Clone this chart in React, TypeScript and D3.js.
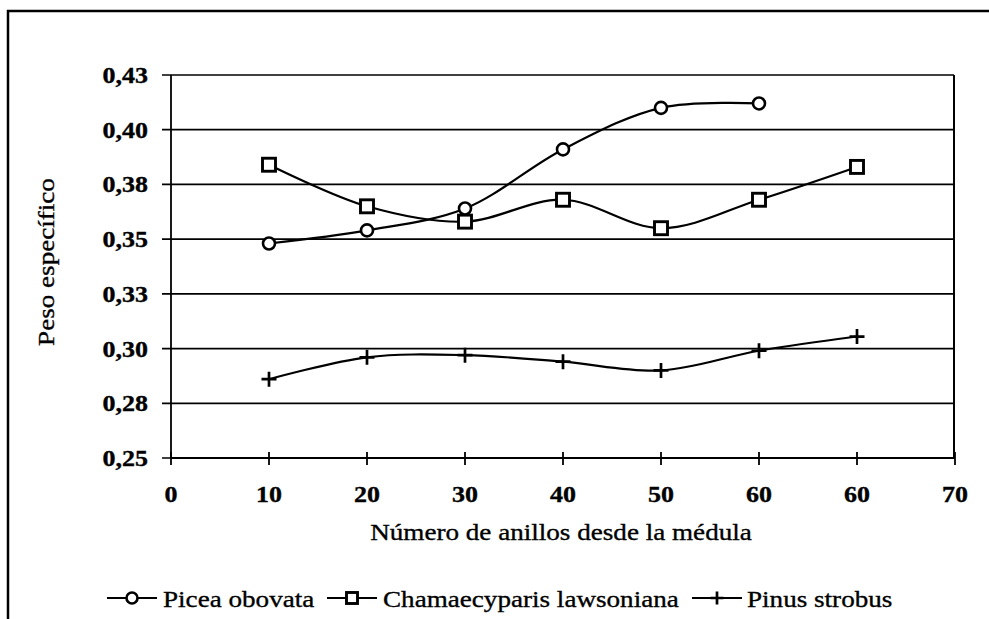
import * as d3 from 'd3'

const xLabels = ['0', '10', '20', '30', '40', '50', '60', '60', '70']
const yTicks = [0.25, 0.275, 0.3, 0.325, 0.35, 0.375, 0.4, 0.425]

// series values, positioned at category index 1.. (label 10, 20, ...)
const picea = [0.348, 0.354, 0.364, 0.391, 0.41, 0.412]
const chamae = [0.384, 0.365, 0.358, 0.368, 0.355, 0.368, 0.383]
const pinus = [0.286, 0.296, 0.297, 0.294, 0.29, 0.299, 0.3055]

const W = 989
const H = 619
const FONT = "'Liberation Serif', Tinos, 'Times New Roman', Times, serif"
const SX = 1.13

type Pt = [number, number]

function App() {
  const x = d3.scaleLinear().domain([0, 8]).range([171, 955])
  const y = d3.scaleLinear().domain([0.25, 0.425]).range([458, 75])
  const fmt = (v: number) => (Math.round(Math.round(v * 1000) / 10) / 100).toFixed(2).replace('.', ',')

  const toPts = (vals: number[]): Pt[] => vals.map((v, i) => [x(i + 1), y(v)])
  const line = d3.line<Pt>().x(d => d[0]).y(d => d[1]).curve(d3.curveCatmullRom.alpha(0.5))

  const circle = (cx: number, cy: number, r = 6, k = '') => (
    <circle key={k} cx={cx} cy={cy} r={r} fill="#fff" stroke="#000" strokeWidth={2.6} />
  )
  const square = (cx: number, cy: number, s = 13, k = '') => (
    <rect key={k} x={cx - s / 2} y={cy - s / 2} width={s} height={s} fill="#fff" stroke="#000" strokeWidth={2.9} />
  )
  const plus = (cx: number, cy: number, s = 7.5, k = '') => (
    <path key={k} d={`M${cx - s},${cy}H${cx + s}M${cx},${cy - s}V${cy + s}`} stroke="#000" strokeWidth={2.7} />
  )

  const txt = (tx: number, ty: number, s: string, opts: any = {}) => (
    <text
      key={opts.k ?? s + tx}
      transform={`translate(${tx},${ty}) scale(${SX},1)`}
      fontFamily={FONT}
      fontSize={opts.size ?? 24}
      fontWeight={opts.bold ? 'bold' : 'normal'}
      textAnchor={opts.anchor ?? 'start'}
      fill="#000"
      stroke="#000"
      strokeWidth={0.35}
    >
      {s}
    </text>
  )

  const pPts = toPts(picea)
  const cPts = toPts(chamae)
  const nPts = toPts(pinus)

  const legend = [
    { lx: 107, tx: 163, label: 'Picea obovata', mark: (cx: number) => circle(cx, 598, 5.5, 'lc') },
    { lx: 327, tx: 383, label: 'Chamaecyparis lawsoniana', mark: (cx: number) => square(cx, 598, 11, 'ls') },
    { lx: 692, tx: 747, label: 'Pinus strobus', mark: (cx: number) => plus(cx, 598, 6.5, 'lp') },
  ]

  return (
    <svg width={W} height={H} style={{ position: 'absolute', left: 0, top: 0, background: '#fff' }}>
      {/* outer frame */}
      <path d={`M8,${H}V11H${W}`} fill="none" stroke="#000" strokeWidth={2.5} />

      {/* gridlines + y ticks */}
      {yTicks.map(t => (
        <line key={t} x1={162} x2={954} y1={y(t)} y2={y(t)} stroke="#000" strokeWidth={1.7} />
      ))}
      {/* plot borders */}
      <line x1={171} x2={171} y1={y(0.425)} y2={y(0.25)} stroke="#000" strokeWidth={1.8} />
      <line x1={954} x2={954} y1={y(0.425)} y2={y(0.25)} stroke="#000" strokeWidth={2} />
      <line x1={171} x2={955} y1={y(0.25)} y2={y(0.25)} stroke="#000" strokeWidth={2} />
      {/* x ticks */}
      {xLabels.map((_, i) => (
        <line key={'xt' + i} x1={x(i)} x2={x(i)} y1={452} y2={465} stroke="#000" strokeWidth={1.8} />
      ))}

      {/* y tick labels */}
      {yTicks.map(t => txt(148, y(t) + 8, fmt(t), { anchor: 'end', bold: true, size: 23, k: 'yl' + t }))}
      {/* x tick labels */}
      {xLabels.map((l, i) => txt(x(i), 502, l, { anchor: 'middle', bold: true, size: 23, k: 'xl' + i }))}

      {/* series lines */}
      <path d={line(pPts) ?? ''} fill="none" stroke="#000" strokeWidth={2.2} />
      <path d={line(cPts) ?? ''} fill="none" stroke="#000" strokeWidth={2.2} />
      <path d={line(nPts) ?? ''} fill="none" stroke="#000" strokeWidth={2.2} />

      {nPts.map((p, i) => plus(p[0], p[1], 7.5, 'n' + i))}
      {cPts.map((p, i) => square(p[0], p[1], 13, 'c' + i))}
      {pPts.map((p, i) => circle(p[0], p[1], 6, 'p' + i))}

      {/* axis titles */}
      {txt(561, 540, 'Número de anillos desde la médula', { anchor: 'middle', k: 'xt' })}
      <text
        transform={`translate(54,262) rotate(-90) scale(${SX},1)`}
        fontFamily={FONT}
        fontSize={24}
        textAnchor="middle"
        fill="#000"
        stroke="#000"
        strokeWidth={0.35}
      >
        Peso específico
      </text>

      {/* legend */}
      {legend.map(l => (
        <g key={l.label}>
          <line x1={l.lx} x2={l.lx + 50} y1={598} y2={598} stroke="#000" strokeWidth={2} />
          {l.mark(l.lx + 25)}
          {txt(l.tx, 607, l.label, { k: 'lt' + l.label })}
        </g>
      ))}
    </svg>
  )
}

export default App
